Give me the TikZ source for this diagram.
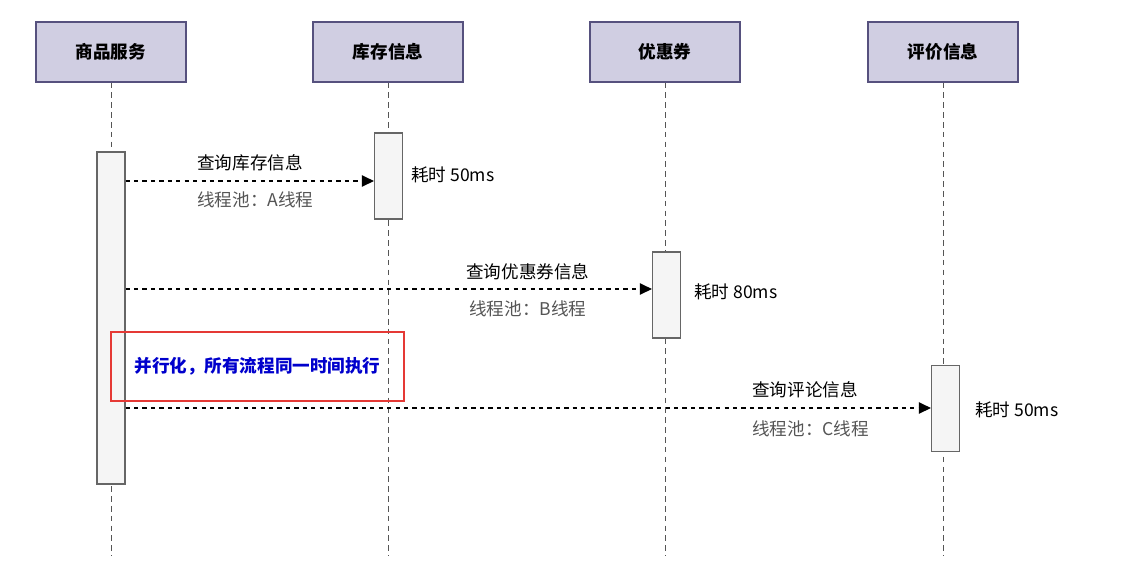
\documentclass[tikz,border=0pt]{standalone}
\usepackage{fontspec}
\setmainfont{Noto Sans CJK SC}
\usetikzlibrary{arrows.meta}
\definecolor{headfill}{HTML}{D0CEE2}
\definecolor{headline}{HTML}{56517E}
\definecolor{barfill}{HTML}{F5F5F5}
\definecolor{barline}{HTML}{666666}
\definecolor{notegray}{HTML}{555555}
\definecolor{notered}{HTML}{E53935}
\definecolor{noteblue}{HTML}{0000CC}
\begin{document}
\begin{tikzpicture}[x=0.025cm, y=-0.025cm, font=\fontsize{12.5}{15}\selectfont]
    \tikzset{actor/.style={draw=headline, fill=headfill, line width=0.9pt, minimum width=3.75cm, minimum height=1.5cm, font=\fontsize{12.5}{15}\selectfont\bfseries}}
    \tikzset{bar/.style={draw=barline, fill=barfill, line width=0.8pt, minimum width=0.7cm, inner sep=0pt}}
    \tikzset{life/.style={draw=notegray, line width=0.7pt, dash pattern=on 4pt off 3pt}}
    \tikzset{msg/.style={line width=0.8pt, dash pattern=on 3pt off 3pt, -{Triangle[length=8.5pt, width=8pt]}}}
    \tikzset{note/.style={anchor=west, inner sep=0pt}}
    \useasboundingbox (0,0) rectangle (1134,562);

    % Header boxes
    \node[actor] (svc) at (111, 52) {商品服务};
    \node[actor] (stock) at (388, 52) {库存信息};
    \node[actor] (coupon) at (665, 52) {优惠券};
    \node[actor] (review) at (943, 52) {评价信息};

    % Lifelines down to the bottom
    \coordinate (svc_end) at (111, 556);
    \coordinate (stock_end) at (388, 556);
    \coordinate (coupon_end) at (665, 556);
    \coordinate (review_end) at (943, 556);
    \draw[life] (svc) -- (svc_end);
    \draw[life] (stock) -- (stock_end);
    \draw[life] (coupon) -- (coupon_end);
    \draw[life] (review) -- (review_end);

    % Activation bars
    \node[bar, minimum height=8.3cm] (svc_bar) at (111, 318) {};
    \node[bar, minimum height=2.15cm] (stock_bar) at (388.5, 176) {};
    \node[bar, minimum height=2.15cm] (coupon_bar) at (666.5, 295) {};
    \node[bar, minimum height=2.15cm] (review_bar) at (945.5, 408.5) {};

    % Message levels
    \coordinate (m1) at (0, 181);
    \coordinate (m2) at (0, 289);
    \coordinate (m3) at (0, 408);

    % Query stock
    \draw[msg] (svc_bar.east |- m1) -- (stock_bar.west |- m1);
    \node[note] (q1) at (197, 163) {查询库存信息};
    \node[note, text=notegray] (t1) at (197, 200) {线程池：A线程};
    \node[note] (c1) at (411, 175) {耗时 50ms};

    % Query coupon
    \draw[msg] (svc_bar.east |- m2) -- (coupon_bar.west |- m2);
    \node[note] (q2) at (466, 272) {查询优惠券信息};
    \node[note, text=notegray] (t2) at (469, 309) {线程池：B线程};
    \node[note] (c2) at (694, 292) {耗时 80ms};

    % Query review
    \draw[msg] (svc_bar.east |- m3) -- (review_bar.west |- m3);
    \node[note] (q3) at (752, 390) {查询评论信息};
    \node[note, text=notegray] (t3) at (752, 429) {线程池：C线程};
    \node[note] (c3) at (975, 410) {耗时 50ms};

    % Parallel note
    \node[draw=notered, line width=1.3pt, minimum width=7.325cm, minimum height=1.725cm, text=noteblue, font=\fontsize{12.5}{15}\selectfont\bfseries] (par) at (257.5, 366.5) {并行化，所有流程同一时间执行};

\end{tikzpicture}
\end{document}
